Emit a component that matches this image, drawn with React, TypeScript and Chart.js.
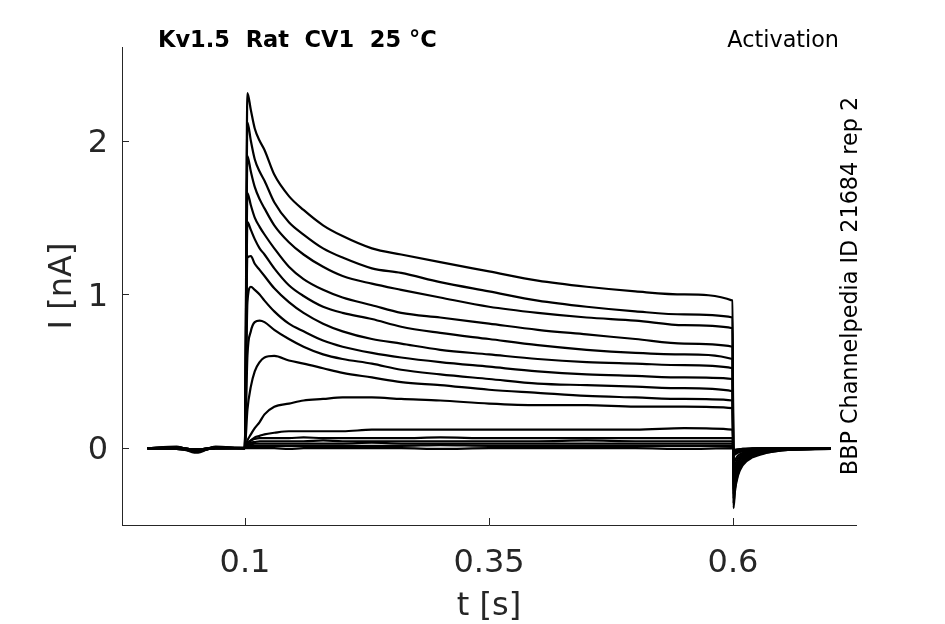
import React, { useEffect, useRef } from 'react';
import Chart from 'chart.js/auto';

// sample times [s] shared by every sweep
const TIMES = [
  0, 0.03, 0.05, 0.07, 0.0998,
  0.1025, 0.106, 0.11, 0.115, 0.12, 0.13, 0.145, 0.16, 0.18, 0.2, 0.23, 0.26, 0.3, 0.35, 0.4, 0.45, 0.5, 0.55, 0.5995,
  0.6005, 0.602, 0.605, 0.61, 0.62, 0.635, 0.65, 0.7,
];

// current [nA] for each voltage step
const SWEEP_1 = [0, 0.01, -0.03, 0.01, 0, 2.31, 2.2, 2.08, 2.0, 1.94, 1.78, 1.64, 1.55, 1.45, 1.38, 1.3, 1.26, 1.21, 1.15, 1.09, 1.05, 1.02, 1.0, 0.96, -0.39, -0.28, -0.18, -0.11, -0.06, -0.03, -0.015, -0.005];
const SWEEP_2 = [0, -0.005, -0.02, 0.005, 0, 2.12, 2.0, 1.88, 1.8, 1.74, 1.6, 1.47, 1.39, 1.3, 1.24, 1.17, 1.14, 1.08, 1.02, 0.96, 0.92, 0.89, 0.87, 0.85, -0.36, -0.26, -0.17, -0.1, -0.055, -0.028, -0.014, -0.004];
const SWEEP_3 = [0, 0, -0.015, 0, 0.005, 1.9, 1.8, 1.7, 1.62, 1.56, 1.45, 1.34, 1.26, 1.18, 1.12, 1.07, 1.03, 0.98, 0.92, 0.88, 0.85, 0.83, 0.8, 0.78, -0.33, -0.24, -0.15, -0.09, -0.05, -0.025, -0.012, -0.004];
const SWEEP_4 = [0, 0.005, -0.01, 0, 0, 1.66, 1.58, 1.5, 1.44, 1.39, 1.3, 1.18, 1.1, 1.03, 0.98, 0.93, 0.88, 0.85, 0.81, 0.77, 0.74, 0.71, 0.68, 0.66, -0.3, -0.22, -0.14, -0.085, -0.045, -0.022, -0.01, -0.003];
const SWEEP_5 = [0, 0, -0.02, 0.005, 0, 1.47, 1.42, 1.36, 1.3, 1.26, 1.17, 1.06, 0.99, 0.92, 0.88, 0.84, 0.79, 0.75, 0.71, 0.67, 0.64, 0.62, 0.61, 0.58, -0.27, -0.2, -0.13, -0.08, -0.04, -0.02, -0.01, -0.003];
const SWEEP_6 = [0, -0.005, -0.01, 0, 0, 1.24, 1.25, 1.2, 1.16, 1.12, 1.04, 0.95, 0.88, 0.81, 0.76, 0.71, 0.68, 0.64, 0.61, 0.58, 0.56, 0.55, 0.54, 0.52, -0.24, -0.18, -0.12, -0.07, -0.035, -0.018, -0.008, -0.002];
const SWEEP_7 = [0, 0.005, -0.015, 0, 0, 0.95, 1.05, 1.03, 1.0, 0.96, 0.89, 0.81, 0.76, 0.7, 0.66, 0.62, 0.59, 0.56, 0.53, 0.5, 0.48, 0.47, 0.46, 0.45, -0.21, -0.16, -0.1, -0.06, -0.03, -0.015, -0.007, -0.002];
const SWEEP_8 = [0, 0, -0.01, 0.005, 0, 0.6, 0.76, 0.82, 0.83, 0.82, 0.77, 0.71, 0.66, 0.61, 0.58, 0.55, 0.51, 0.48, 0.45, 0.42, 0.41, 0.4, 0.39, 0.37, -0.18, -0.14, -0.09, -0.05, -0.025, -0.012, -0.006, -0.002];
const SWEEP_9 = [0, -0.005, -0.02, 0, 0, 0.25, 0.4, 0.5, 0.56, 0.59, 0.6, 0.57, 0.55, 0.52, 0.49, 0.46, 0.43, 0.41, 0.38, 0.36, 0.34, 0.33, 0.32, 0.31, -0.14, -0.11, -0.07, -0.04, -0.02, -0.01, -0.005, 0];
const SWEEP_10 = [0, 0, -0.01, 0, 0, 0.05, 0.09, 0.13, 0.17, 0.22, 0.27, 0.29, 0.31, 0.32, 0.33, 0.33, 0.32, 0.31, 0.29, 0.28, 0.28, 0.27, 0.27, 0.26, -0.1, -0.08, -0.05, -0.03, -0.015, -0.008, -0.004, 0];
const SWEEP_11 = [0, 0, -0.01, 0, 0, 0.03, 0.05, 0.07, 0.08, 0.09, 0.1, 0.11, 0.11, 0.11, 0.11, 0.12, 0.12, 0.12, 0.12, 0.12, 0.12, 0.12, 0.13, 0.12, -0.05, -0.04, -0.03, -0.02, -0.01, -0.005, 0, 0];
const SWEEP_12 = [0, 0.005, -0.01, 0, 0, 0.03, 0.05, 0.06, 0.065, 0.065, 0.065, 0.065, 0.07, 0.065, 0.065, 0.065, 0.065, 0.07, 0.065, 0.065, 0.065, 0.065, 0.065, 0.065, -0.035, -0.03, -0.02, -0.012, -0.006, -0.003, 0, 0];
const SWEEP_13 = [0, 0, -0.015, 0.005, 0, 0.02, 0.035, 0.04, 0.045, 0.045, 0.045, 0.045, 0.045, 0.05, 0.045, 0.045, 0.045, 0.045, 0.045, 0.045, 0.05, 0.045, 0.045, 0.045, -0.03, -0.025, -0.018, -0.01, -0.005, -0.002, 0, 0];
const SWEEP_14 = [0, -0.005, -0.01, 0, 0, 0.015, 0.025, 0.03, 0.03, 0.03, 0.03, 0.03, 0.03, 0.03, 0.03, 0.035, 0.03, 0.03, 0.03, 0.03, 0.03, 0.03, 0.03, 0.03, -0.025, -0.02, -0.015, -0.008, -0.004, 0, 0, 0];
const SWEEP_15 = [0, 0, -0.02, 0, 0, 0.01, 0.015, 0.015, 0.015, 0.015, 0.015, 0.015, 0.015, 0.015, 0.015, 0.015, 0.015, 0.02, 0.015, 0.015, 0.015, 0.015, 0.015, 0.015, -0.02, -0.015, -0.01, -0.005, -0.002, 0, 0, 0];
const SWEEP_16 = [0, 0, -0.01, 0, 0, 0, 0, 0, 0, 0, 0, -0.005, 0, 0, 0, 0, 0, -0.005, 0, 0, 0, 0, -0.005, 0, -0.015, -0.01, -0.008, -0.004, -0.002, 0, 0, 0];

const SWEEPS = [
  SWEEP_1, SWEEP_2, SWEEP_3, SWEEP_4, SWEEP_5, SWEEP_6, SWEEP_7, SWEEP_8,
  SWEEP_9, SWEEP_10, SWEEP_11, SWEEP_12, SWEEP_13, SWEEP_14, SWEEP_15, SWEEP_16,
];

const X_TICKS = [0.1, 0.35, 0.6];
const Y_TICKS = [0, 1, 2];

const TITLE = 'Kv1.5  Rat  CV1  25 °C';
const PROTOCOL = 'Activation';
const SOURCE = 'BBP Channelpedia ID 21684 rep 2';

const AXIS_COLOR = '#262626';
const FONT = "'DejaVu Sans', sans-serif";

// matlab-like inward ticks + the loose texts round the axes
const figureExtras = {
  id: 'figureExtras',
  afterDraw(chart: any) {
    const { ctx, chartArea, scales } = chart;
    ctx.save();
    ctx.strokeStyle = AXIS_COLOR;
    ctx.lineWidth = 1;
    X_TICKS.forEach((v) => {
      const px = Math.round(scales.x.getPixelForValue(v)) + 0.5;
      ctx.beginPath();
      ctx.moveTo(px, chartArea.bottom);
      ctx.lineTo(px, chartArea.bottom - 7);
      ctx.stroke();
    });
    Y_TICKS.forEach((v) => {
      const py = Math.round(scales.y.getPixelForValue(v)) + 0.5;
      ctx.beginPath();
      ctx.moveTo(chartArea.left, py);
      ctx.lineTo(chartArea.left + 7, py);
      ctx.stroke();
    });

    ctx.fillStyle = '#000';
    ctx.textBaseline = 'alphabetic';
    ctx.font = `bold 22.5px ${FONT}`;
    ctx.textAlign = 'left';
    ctx.fillText(TITLE, 158, 47);

    ctx.font = `22.3px ${FONT}`;
    ctx.textAlign = 'right';
    ctx.fillText(PROTOCOL, 839, 47);

    ctx.translate(857, 286);
    ctx.rotate(-Math.PI / 2);
    ctx.textAlign = 'center';
    ctx.fillText(SOURCE, 0, 0);
    ctx.restore();
  },
};

const App: React.FC = () => {
  const canvasRef = useRef<HTMLCanvasElement | null>(null);
  const chartRef = useRef<Chart | null>(null);

  useEffect(() => {
    document.body.style.margin = '0';
    if (!canvasRef.current) return;
    if (chartRef.current) chartRef.current.destroy();

    chartRef.current = new Chart(canvasRef.current, {
      type: 'line',
      data: {
        datasets: SWEEPS.map((sweep, i) => ({
          label: `sweep ${i + 1}`,
          data: sweep.map((y, j) => ({ x: TIMES[j], y })),
          borderColor: '#000',
          borderWidth: 2.2,
          pointRadius: 0,
          cubicInterpolationMode: 'monotone' as const,
          fill: false,
        })),
      },
      options: {
        responsive: false,
        animation: false,
        events: [],
        layout: { padding: { left: 0, right: 89, top: 47, bottom: 0 } },
        plugins: {
          legend: { display: false },
          tooltip: { enabled: false },
        },
        scales: {
          x: {
            type: 'linear',
            min: -0.026,
            max: 0.726,
            afterFit: (s: any) => { s.height = 99; },
            afterBuildTicks: (s: any) => { s.ticks = X_TICKS.map((value) => ({ value })); },
            grid: { display: true, drawOnChartArea: false, drawTicks: false },
            border: { display: true, color: AXIS_COLOR, width: 1 },
            ticks: {
              color: AXIS_COLOR,
              padding: 19,
              font: { family: FONT, size: 32 },
              callback: (v: any) => String(v),
            },
            title: {
              display: true,
              text: 't [s]',
              color: AXIS_COLOR,
              font: { family: FONT, size: 32, lineHeight: 1 },
              padding: { top: 0, bottom: 1 },
            },
          },
          y: {
            type: 'linear',
            min: -0.5,
            max: 2.61,
            afterFit: (s: any) => { s.width = 122; },
            afterBuildTicks: (s: any) => { s.ticks = Y_TICKS.map((value) => ({ value })); },
            grid: { display: true, drawOnChartArea: false, drawTicks: false },
            border: { display: true, color: AXIS_COLOR, width: 1 },
            ticks: {
              color: AXIS_COLOR,
              padding: 14,
              labelOffset: 3,
              font: { family: FONT, size: 32 },
              callback: (v: any) => String(v),
            },
            title: {
              display: true,
              text: 'I [nA]',
              color: AXIS_COLOR,
              font: { family: FONT, size: 32, lineHeight: 1 },
              padding: { top: 47, bottom: 0 },
            },
          },
        },
      },
      plugins: [figureExtras],
    });

    return () => {
      if (chartRef.current) {
        chartRef.current.destroy();
        chartRef.current = null;
      }
    };
  }, []);

  return (
    <div style={{ width: 945, height: 624, background: '#fff' }}>
      <canvas ref={canvasRef} width={945} height={624} style={{ display: 'block' }} />
    </div>
  );
};

export default App;
